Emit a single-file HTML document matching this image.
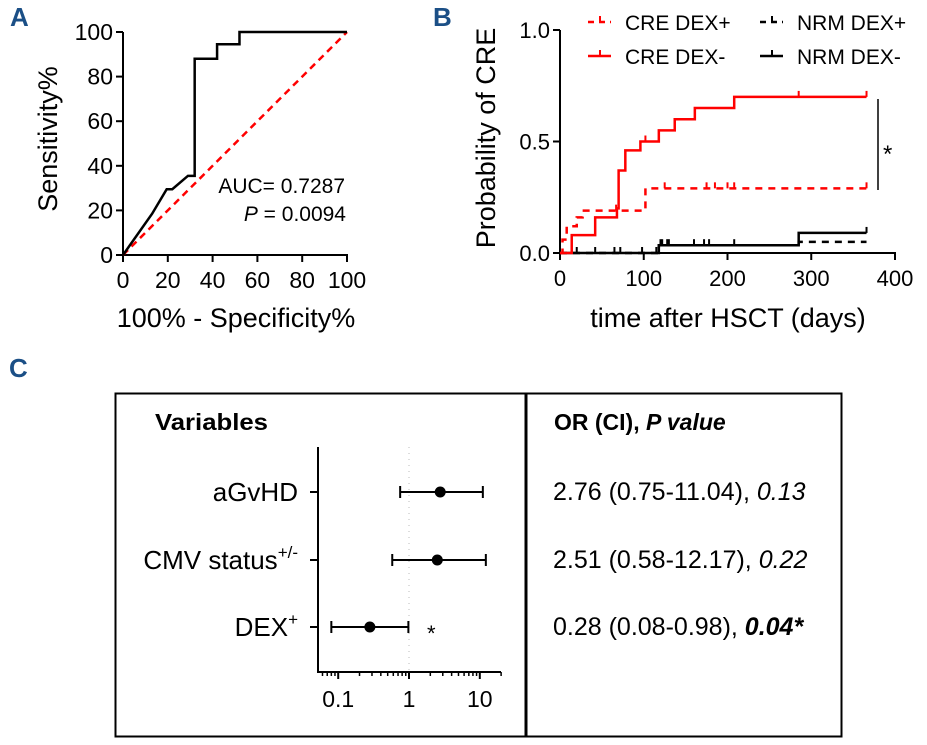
<!DOCTYPE html>
<html><head><meta charset="utf-8"><style>
html,body{margin:0;padding:0;background:#fff;}
svg{display:block;font-family:"Liberation Sans",Arial,sans-serif;}
</style></head><body>
<svg id="fig" width="927" height="745" viewBox="0 0 927 745">
<text x="10" y="26" font-size="26" font-weight="bold" fill="#1b4f86">A</text>
<text x="433" y="26" font-size="26" font-weight="bold" fill="#1b4f86">B</text>
<text x="9" y="377" font-size="26" font-weight="bold" fill="#1b4f86">C</text>
<g id="pa"></g>
<g id="pb"></g>
<g id="pc"></g>
</svg>
<script>
// ---- Panel A data ----
const rocX = [0, 13, 19.5, 22, 29, 32, 32, 42, 42, 52, 52, 100];
const rocY = [0, 18.5, 29.5, 29.5, 35.5, 35.5, 88, 88, 94.5, 94.5, 100, 100];
const rocTicks = [0, 20, 40, 60, 80, 100];
// ---- Panel B data ----
const kmTicksX = [0, 100, 200, 300, 400];
const kmTicksY = [0, 0.5, 1.0];
const kmTickLabelsY = ["0.0", "0.5", "1.0"];
const creMinusT = [0, 14, 42, 68, 70, 78, 96, 118, 137, 161, 208, 366];
const creMinusP = [0, 0.08, 0.16, 0.2, 0.37, 0.46, 0.5, 0.55, 0.6, 0.65, 0.7, 0.7];
const creMinusCens = [102, 285, 366];
const crePlusT = [0, 3, 8, 20, 27, 102, 366];
const crePlusP = [0, 0.06, 0.12, 0.16, 0.19, 0.29, 0.29];
const crePlusCens = [67, 125, 175, 185, 200, 208, 366];
const nrmPlusT = [0, 118, 285, 366];
const nrmPlusP = [0, 0.035, 0.05, 0.05];
const nrmPlusCens = [20, 42, 65, 72, 98, 120, 128, 208];
const nrmMinusT = [0, 118, 285, 366];
const nrmMinusP = [0, 0.035, 0.09, 0.09];
const nrmMinusCens = [115, 122, 130, 160, 172, 178, 366];
// ---- Panel C data ----
const forestVars = ["aGvHD", "CMV status", "DEX"];
const forestSup = ["", "+/-", "+"];
const forestOR = [2.76, 2.51, 0.28];
const forestLo = [0.75, 0.58, 0.08];
const forestHi = [11.04, 12.17, 0.98];
const forestText = ["2.76 (0.75-11.04), ", "2.51 (0.58-12.17), ", "0.28 (0.08-0.98), "];
const forestP = ["0.13", "0.22", "0.04*"];
const forestTicks = [0.1, 1, 10];

const NS = "http://www.w3.org/2000/svg";
function mk(parent, tag, attrs, text) {
  const e = document.createElementNS(NS, tag);
  for (const k in attrs) e.setAttribute(k, attrs[k]);
  if (text !== undefined) e.textContent = text;
  parent.appendChild(e);
  return e;
}
function stepPath(T, P, sx, sy) {
  let d = "M" + sx(T[0]) + "," + sy(P[0]);
  for (let i = 1; i < T.length; i++) {
    d += "H" + sx(T[i]) + "V" + sy(P[i]);
  }
  return d;
}

// ===== Panel A =====
(function () {
  const g = document.getElementById("pa");
  const x0 = 123, x1 = 347, y0 = 255, y1 = 32;
  const sx = v => x0 + (v / 100) * (x1 - x0);
  const sy = v => y0 - (v / 100) * (y0 - y1);
  let el;
  el = mk(g, "line", {x1: x0, y1: y0, x2: x0, y2: y1, stroke: "#000", "stroke-width": 2});
  
  
  el = mk(g, "line", {x1: x0, y1: y0, x2: x1 + 1, y2: y0, stroke: "#000", "stroke-width": 2});
  
  
  rocTicks.forEach(t => {
    let a = mk(g, "line", {x1: x0 - 7, y1: sy(t), x2: x0, y2: sy(t), stroke: "#000", "stroke-width": 2});
    
    
    let b = mk(g, "text", {x: x0 - 10, y: sy(t) + 8, "font-size": 23, "text-anchor": "end"}, String(t));
    
    
    let c = mk(g, "line", {x1: sx(t), y1: y0, x2: sx(t), y2: y0 + 7, stroke: "#000", "stroke-width": 2});
    
    
    let d = mk(g, "text", {x: sx(t), y: y0 + 33, "font-size": 23, "text-anchor": "middle"}, String(t));
    
    
  });
  el = mk(g, "line", {x1: sx(0), y1: sy(0), x2: sx(100), y2: sy(100), stroke: "#f00", "stroke-width": 2.5, "stroke-dasharray": "7,5"});
  
  
  let d = rocX.map((v, i) => (i ? "L" : "M") + sx(v) + "," + sy(rocY[i])).join("");
  el = mk(g, "path", {d: d, fill: "none", stroke: "#000", "stroke-width": 2.5});
  
  
  el = mk(g, "text", {x: 345, y: 193, "font-size": 21, "text-anchor": "end"}, "AUC= 0.7287");
  
  
  el = mk(g, "text", {x: 346, y: 221, "font-size": 21, "text-anchor": "end"});
  
  
  mk(el, "tspan", {"font-style": "italic"}, "P");
  mk(el, "tspan", {}, " = 0.0094");
  el = mk(g, "text", {x: 236, y: 327, "font-size": 27, "text-anchor": "middle"}, "100% - Specificity%");
  
  
  el = mk(g, "text", {x: 0, y: 0, "font-size": 27, "text-anchor": "middle", transform: "translate(57,139) rotate(-90)"}, "Sensitivity%");
  
  
})();

// ===== Panel B =====
(function () {
  const g = document.getElementById("pb");
  const x0 = 560, x1 = 895, y0 = 253, y1 = 30;
  const sx = v => x0 + (v / 400) * (x1 - x0);
  const sy = v => y0 - v * (y0 - y1);
  let el;
  el = mk(g, "line", {x1: x0, y1: y0 + 1, x2: x0, y2: y1, stroke: "#000", "stroke-width": 2});
  
  
  el = mk(g, "line", {x1: x0, y1: y0, x2: x1 + 1, y2: y0, stroke: "#000", "stroke-width": 2});
  
  
  kmTicksY.forEach((t, i) => {
    let a = mk(g, "line", {x1: x0 - 7, y1: sy(t), x2: x0, y2: sy(t), stroke: "#000", "stroke-width": 2});
    
    
    let b = mk(g, "text", {x: x0 - 10, y: sy(t) + 8, "font-size": 22, "text-anchor": "end"}, kmTickLabelsY[i]);
    
    
  });
  kmTicksX.forEach(t => {
    let c = mk(g, "line", {x1: sx(t), y1: y0, x2: sx(t), y2: y0 + 7, stroke: "#000", "stroke-width": 2});
    
    
    let d = mk(g, "text", {x: sx(t), y: y0 + 33, "font-size": 22, "text-anchor": "middle"}, String(t));
    
    
  });
  function series(T, P, C, color, dash, name) {
    const attrs = {d: stepPath(T, P, sx, sy), fill: "none", stroke: color, "stroke-width": 2.5};
    if (dash) attrs["stroke-dasharray"] = "7,6";
    let p = mk(g, "path", attrs);
    
    
    C.forEach(t => {
      let v = P[0];
      for (let i = 0; i < T.length; i++) if (T[i] <= t) v = P[i];
      let c = mk(g, "line", {x1: sx(t), y1: sy(v) - 6, x2: sx(t), y2: sy(v), stroke: color, "stroke-width": 2});
      
      
    });
  }
  series(nrmPlusT, nrmPlusP, nrmPlusCens, "#000", true, "nrm-dex-plus-curve");
  series(nrmMinusT, nrmMinusP, nrmMinusCens, "#000", false, "nrm-dex-minus-curve");
  series(crePlusT, crePlusP, crePlusCens, "#f00", true, "cre-dex-plus-curve");
  series(creMinusT, creMinusP, creMinusCens, "#f00", false, "cre-dex-minus-curve");
  el = mk(g, "line", {x1: 878, y1: 99, x2: 878, y2: 190, stroke: "#000", "stroke-width": 1.5});
  
  
  el = mk(g, "text", {x: 883, y: 162, "font-size": 24}, "*");
  
  
  const leg = [
    {x: 588, y: 22, c: "#f00", dash: true, t: "CRE DEX+"},
    {x: 588, y: 56, c: "#f00", dash: false, t: "CRE DEX-"},
    {x: 760, y: 22, c: "#000", dash: true, t: "NRM DEX+"},
    {x: 760, y: 56, c: "#000", dash: false, t: "NRM DEX-"}
  ];
  leg.forEach(L => {
    let a = {x1: L.x, y1: L.y, x2: L.x + 23, y2: L.y, stroke: L.c, "stroke-width": 2.5};
    if (L.dash) a["stroke-dasharray"] = "6,5";
    let l = mk(g, "line", a);
    
    
    let t = mk(g, "line", {x1: L.x + 12, y1: L.y - 6, x2: L.x + 12, y2: L.y, stroke: L.c, "stroke-width": 2});
    
    
    let tx = mk(g, "text", {x: L.x + 37, y: L.y + 8, "font-size": 21}, L.t);
    
    
  });
  el = mk(g, "text", {x: 728, y: 327, "font-size": 27, "text-anchor": "middle"}, "time after HSCT (days)");
  
  
  el = mk(g, "text", {x: 0, y: 0, "font-size": 27, "text-anchor": "middle", transform: "translate(495,138) rotate(-90)"}, "Probability of CRE");
  
  
})();

// ===== Panel C =====
(function () {
  const g = document.getElementById("pc");
  let el;
  el = mk(g, "rect", {x: 115.5, y: 393.5, width: 410, height: 343, fill: "none", stroke: "#000", "stroke-width": 2});
  
  
  el = mk(g, "rect", {x: 526.5, y: 393.5, width: 315, height: 343, fill: "none", stroke: "#000", "stroke-width": 2});
  
  
  el = mk(g, "text", {x: 155, y: 430, "font-size": 23, "font-weight": "bold", textLength: 113, lengthAdjust: "spacingAndGlyphs"}, "Variables");
  
  
  el = mk(g, "text", {x: 554, y: 430, "font-size": 23, "font-weight": "bold"});
  
  
  mk(el, "tspan", {}, "OR (CI), ");
  mk(el, "tspan", {"font-style": "italic"}, "P value");

  const ax0 = 318, axY = 672, axTop = 447, axEnd = 501;
  const lx = v => 409 + Math.log10(v) * 70.8;
  const rowY = [492, 560, 627];
  el = mk(g, "line", {x1: lx(1), y1: axTop, x2: lx(1), y2: axY, stroke: "#bbb", "stroke-width": 1, "stroke-dasharray": "1,5"});
  
  
  el = mk(g, "line", {x1: ax0, y1: axTop, x2: ax0, y2: axY + 1, stroke: "#000", "stroke-width": 2});
  
  
  el = mk(g, "line", {x1: ax0, y1: axY, x2: axEnd, y2: axY, stroke: "#000", "stroke-width": 2});
  
  
  [0.06,0.07,0.08,0.09,0.2,0.3,0.4,0.5,0.6,0.7,0.8,0.9,2,3,4,5,6,7,8,9,20].forEach(v => {
    let m = mk(g, "line", {x1: lx(v), y1: axY, x2: lx(v), y2: axY + 4, stroke: "#000", "stroke-width": 1.5});
    
    
  });
  forestTicks.forEach(v => {
    let t = mk(g, "line", {x1: lx(v), y1: axY, x2: lx(v), y2: axY + 7, stroke: "#000", "stroke-width": 2});
    
    
    let l = mk(g, "text", {x: lx(v), y: axY + 35, "font-size": 23, "text-anchor": "middle"}, String(v));
    
    
  });
  forestVars.forEach((name, i) => {
    const y = rowY[i];
    let t = mk(g, "line", {x1: ax0 - 8, y1: y, x2: ax0, y2: y, stroke: "#000", "stroke-width": 2});
    
    
    let lab = mk(g, "text", {x: 298, y: y + 9, "font-size": 26, "text-anchor": "end"});
    
    
    mk(lab, "tspan", {}, name);
    if (forestSup[i]) mk(lab, "tspan", {dy: -11, "font-size": 17}, forestSup[i]);
    let ci = mk(g, "line", {x1: lx(forestLo[i]), y1: y, x2: lx(forestHi[i]), y2: y, stroke: "#000", "stroke-width": 2});
    
    
    [forestLo[i], forestHi[i]].forEach(v => {
      let c = mk(g, "line", {x1: lx(v), y1: y - 6, x2: lx(v), y2: y + 6, stroke: "#000", "stroke-width": 2});
      
      
    });
    let pt = mk(g, "circle", {cx: lx(forestOR[i]), cy: y, r: 5.5, fill: "#000"});
    
    
    let vt = mk(g, "text", {x: 553, y: y + 8, "font-size": 25});
    
    
    mk(vt, "tspan", {}, forestText[i]);
    const sig = forestP[i].indexOf("*") >= 0;
    mk(vt, "tspan", sig ? {"font-style": "italic", "font-weight": "bold"} : {"font-style": "italic"}, forestP[i]);
  });
  el = mk(g, "text", {x: 427, y: rowY[2] + 14, "font-size": 22}, "*");
  
  
})();
</script>
</body></html>
